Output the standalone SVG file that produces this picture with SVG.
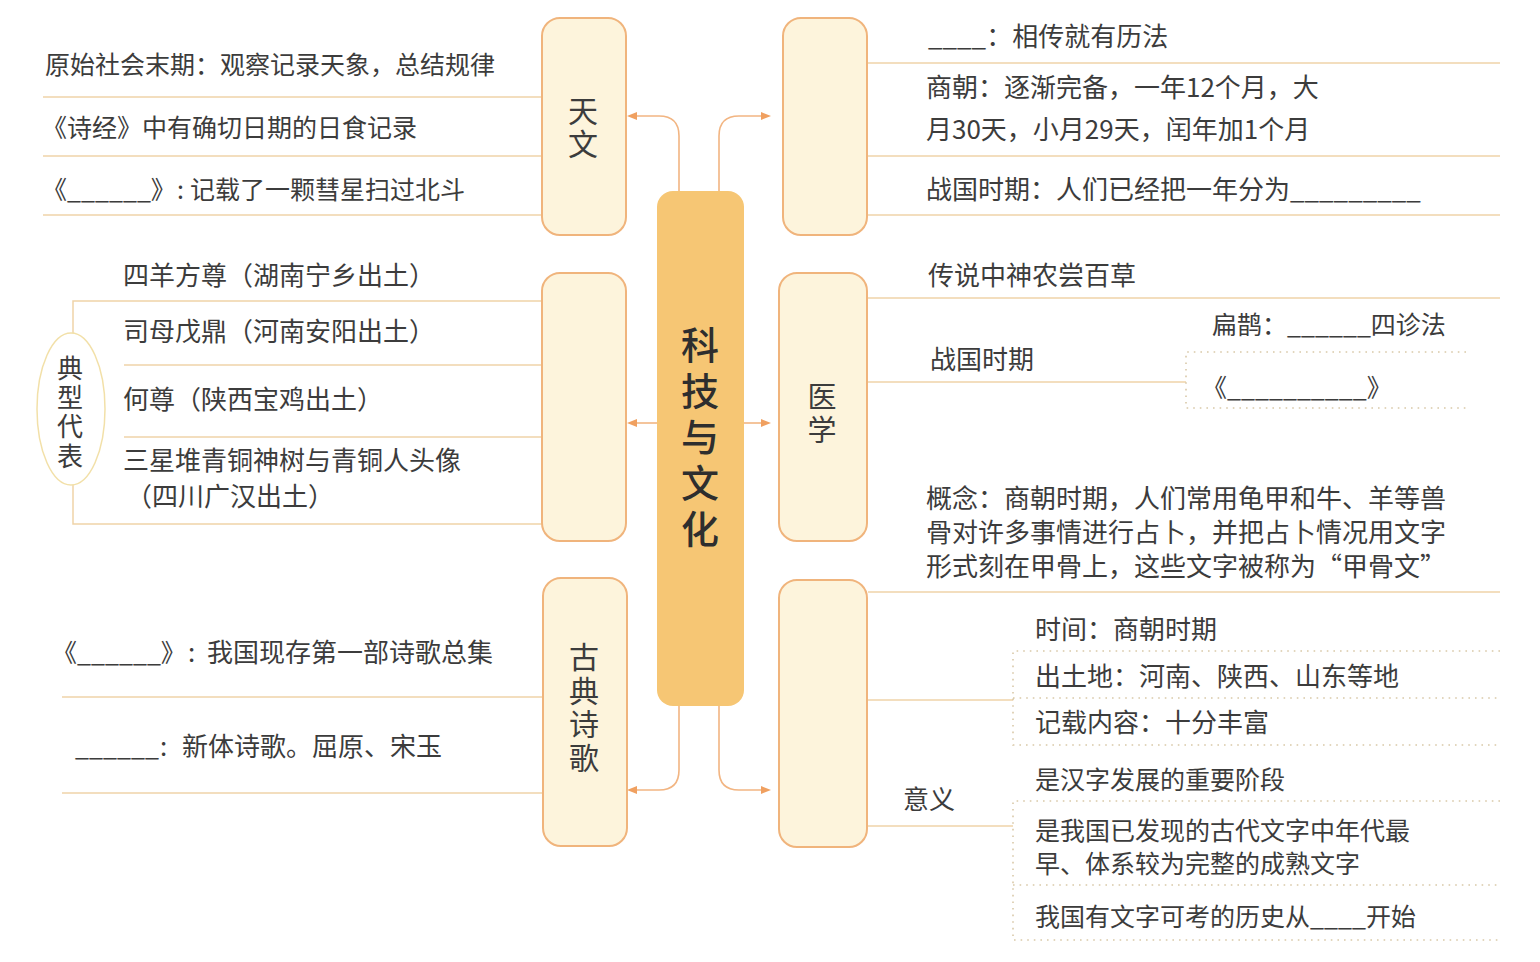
<svg xmlns="http://www.w3.org/2000/svg" width="1540" height="962" viewBox="0 0 1540 962">
<style>
text{font-family:"Noto Sans CJK SC","Noto Sans",sans-serif;fill:#3c3c3c}
.l{font-size:25px}
.b{font-size:26px}
.r{font-size:26px}
.r5{font-size:25px}
.vt{writing-mode:vertical-rl;font-size:30px;letter-spacing:3px}
.title{writing-mode:vertical-rl;font-size:38px;letter-spacing:8px;font-weight:500;fill:#2e2e2e}
.box{fill:#fdf4dc;stroke:#f0b47c;stroke-width:2}
.ln{stroke:#efd3a8;stroke-width:1.5;fill:none}
.dt{stroke:#d9c9a8;stroke-width:1.6;stroke-dasharray:1.6 5;fill:none}
.con{stroke:#f2b582;stroke-width:1.6;fill:none;marker-end:url(#ah)}
</style>
<defs>
<marker id="ah" viewBox="0 0 10 8" refX="0" refY="4" markerWidth="10" markerHeight="8" markerUnits="userSpaceOnUse" orient="auto">
<path d="M0,0 L10,4 L0,8 z" fill="#f0a060"/>
</marker>
</defs>
<rect width="1540" height="962" fill="#ffffff"/>

<g id="connectors">
<path class="con" d="M679,191 V136 Q679,116 659,116 H637"/>
<path class="con" d="M719,191 V136 Q719,116 739,116 H761"/>
<path class="con" d="M657,423 H637"/>
<path class="con" d="M744,423 H761"/>
<path class="con" d="M679,706 V770 Q679,790 659,790 H637"/>
<path class="con" d="M719,706 V770 Q719,790 739,790 H761"/>
</g>

<g id="lines">
<line class="ln" x1="43" y1="97" x2="542" y2="97"/>
<line class="ln" x1="43" y1="156" x2="542" y2="156"/>
<line class="ln" x1="43" y1="215" x2="542" y2="215"/>
<path class="ln" d="M542,301 H73 V524 H542"/>
<line class="ln" x1="124" y1="365" x2="542" y2="365"/>
<line class="ln" x1="124" y1="437" x2="542" y2="437"/>
<line class="ln" x1="62" y1="697" x2="543" y2="697"/>
<line class="ln" x1="62" y1="793" x2="543" y2="793"/>
<line class="ln" x1="867" y1="63" x2="1500" y2="63"/>
<line class="ln" x1="867" y1="156" x2="1500" y2="156"/>
<line class="ln" x1="867" y1="215" x2="1500" y2="215"/>
<line class="ln" x1="867" y1="298" x2="1500" y2="298"/>
<line class="ln" x1="867" y1="382" x2="1186" y2="382"/>
<line class="ln" x1="868" y1="592" x2="1500" y2="592"/>
<line class="ln" x1="868" y1="700" x2="1013" y2="700"/>
<line class="ln" x1="868" y1="826" x2="1013" y2="826"/>
<path class="dt" d="M1466,352 H1186 V408 H1466"/>
<path class="dt" d="M1500,651 H1013 V745 H1500 M1013,698 H1500"/>
<path class="dt" d="M1500,801 H1013 V940 H1500 M1013,885 H1500"/>
</g>

<g id="center">
<rect x="657" y="191" width="87" height="515" rx="16" fill="#f6c674"/>
<text class="title" x="700" y="326">科技与文化</text>
</g>

<g id="tianwen">
<rect class="box" x="542" y="18" width="84" height="217" rx="18"/>
<text class="vt" x="583" y="96">天文</text>
</g>
<g id="tianwen-items">
<text class="l" x="45" y="74">原始社会末期：观察记录天象，总结规律</text>
<text class="l" x="42" y="137">《诗经》中有确切日期的日食记录</text>
<text class="l" x="42" y="199">《______》</text>
<text class="l" x="177" y="199">:</text>
<text class="l" x="190" y="199">记载了一颗彗星扫过北斗</text>
</g>

<g id="bronze">
<rect class="box" x="542" y="273" width="84" height="268" rx="18"/>
</g>
<g id="typical">
<ellipse cx="71" cy="409" rx="34" ry="76" fill="#ffffff" stroke="#f2e0a8" stroke-width="1.5"/>
<text class="vt" style="font-size:26px;letter-spacing:3.3px" x="70" y="355">典型代表</text>
</g>
<g id="bronze-items">
<text class="b" x="123" y="285">四羊方尊（湖南宁乡出土）</text>
<text class="b" x="123" y="341">司母戊鼎（河南安阳出土）</text>
<text class="b" x="123" y="409">何尊（陕西宝鸡出土）</text>
<text class="b" x="123" y="470">三星堆青铜神树与青铜人头像</text>
<text class="b" x="126" y="506">（四川广汉出土）</text>
</g>

<g id="poetry">
<rect class="box" x="543" y="578" width="84" height="268" rx="18"/>
<text class="vt" style="letter-spacing:3.5px" x="584" y="642">古典诗歌</text>
</g>
<g id="poetry-items">
<text class="l" x="52" y="662">《______》</text>
<text class="b" x="188" y="662">:</text>
<text class="b" x="207" y="662">我国现存第一部诗歌总集</text>
<text class="l" x="75" y="756">______</text>
<text class="b" x="160" y="756">:</text>
<text class="b" x="182" y="756">新体诗歌。屈原、宋玉</text>
</g>

<g id="calendar">
<rect class="box" x="783" y="18" width="84" height="217" rx="18"/>
</g>
<g id="calendar-items">
<text class="r" x="928" y="46">____：相传就有历法</text>
<text class="r" x="926" y="97">商朝：逐渐完备，一年12个月，大</text>
<text class="r" x="926" y="139">月30天，小月29天，闰年加1个月</text>
<text class="r" x="926" y="199">战国时期：人们已经把一年分为_________</text>
</g>

<g id="medicine">
<rect class="box" x="779" y="273" width="88" height="268" rx="18"/>
<text class="vt" style="font-size:29px;letter-spacing:4px" x="822" y="382">医学</text>
</g>
<g id="medicine-items">
<text class="r" x="928" y="285">传说中神农尝百草</text>
<text class="r" x="930" y="369">战国时期</text>
<text class="r5" x="1212" y="334">扁鹊：______四诊法</text>
<text class="r5" x="1202" y="397">《__________》</text>
</g>

<g id="oracle">
<rect class="box" x="779" y="580" width="88" height="267" rx="18"/>
</g>
<g id="oracle-items">
<text class="r" x="926" y="508">概念：商朝时期，人们常用龟甲和牛、羊等兽</text>
<text class="r" x="926" y="542">骨对许多事情进行占卜，并把占卜情况用文字</text>
<text class="r" x="926" y="576">形式刻在甲骨上，这些文字被称为“甲骨文”</text>
<text class="r" x="1035" y="639">时间：商朝时期</text>
<text class="r" x="1035" y="686">出土地：河南、陕西、山东等地</text>
<text class="r" x="1035" y="732">记载内容：十分丰富</text>
<text class="r" x="903" y="809">意义</text>
<text class="r5" x="1035" y="789">是汉字发展的重要阶段</text>
<text class="r5" x="1035" y="840">是我国已发现的古代文字中年代最</text>
<text class="r5" x="1035" y="873">早、体系较为完整的成熟文字</text>
<text class="r5" x="1035" y="926">我国有文字可考的历史从____开始</text>
</g>
</svg>
